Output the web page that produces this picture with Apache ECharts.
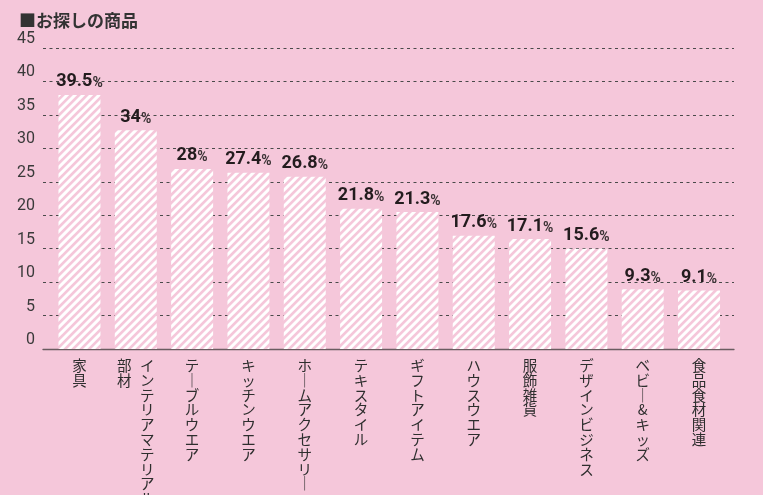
<!DOCTYPE html>
<html>
<head>
<meta charset="utf-8">
<script src="https://cdn.jsdelivr.net/npm/echarts@6/dist/echarts.min.js"></script>
<style>
html,body{margin:0;padding:0;background:#f5c7da;}
#c{width:763px;height:495px;}
</style>
</head>
<body>
<div id="c"></div>
<script>
// ---- data ----
const title = '■お探しの商品';
// '\n' marks a column break (columns read right-to-left in vertical writing)
const categories = ['家具','インテリアマテリアル\n部材','テーブルウエア','キッチンウエア','ホームアクセサリー','テキスタイル','ギフトアイテム','ハウスウエア','服飾雑貨','デザインビジネス','ベビー&キッズ','食品食材関連'];
const values = [39.5, 34, 28, 27.4, 26.8, 21.8, 21.3, 17.6, 17.1, 15.6, 9.3, 9.1];
const yTicks = [0, 5, 10, 15, 20, 25, 30, 35, 40, 45];

// ---- stripe pattern ----
const BG = '#f5c7da';
function makePattern() {
  const s = 16, p = 8, w = 4.2;
  const cv = document.createElement('canvas');
  cv.width = s; cv.height = s;
  const ctx = cv.getContext('2d');
  ctx.fillStyle = BG; ctx.fillRect(0, 0, s, s);
  ctx.fillStyle = '#ffffff';
  for (let c = -s; c <= 2 * s; c += p) {
    ctx.beginPath();
    ctx.moveTo(c, 0); ctx.lineTo(c + w, 0);
    ctx.lineTo(c + w - s, s); ctx.lineTo(c - s, s);
    ctx.closePath(); ctx.fill();
  }
  return cv;
}

function vertLabel(name) {
  const cols = name.split('\n').map(c => Array.from(c.replace(/ー/g, '｜')));
  cols.reverse(); // first column on the right
  const rows = Math.max(...cols.map(c => c.length));
  const lines = [];
  for (let r = 0; r < rows; r++) {
    lines.push(cols.map(c => '{c|' + (c[r] || ' ') + '}').join(''));
  }
  return lines.join('\n');
}

const chart = echarts.init(document.getElementById('c'));
const T = 48, B = 146;
chart.setOption({
  backgroundColor: BG,
  animation: false,
  title: {
    text: title, left: 14, top: 7,
    textStyle: {fontSize: 17, fontWeight: 'bold', color: '#333', fontFamily: 'Noto Sans CJK JP'}
  },
  grid: [
    {left: 43, right: 29, top: T, bottom: B, containLabel: false, outerBoundsMode: 'none'},
    {left: 51.3, right: 35.8, top: T, bottom: B, containLabel: false, outerBoundsMode: 'none'}
  ],
  xAxis: [
    {gridIndex: 0, type: 'value', min: 0, max: 1, axisLabel: {show: false}, splitLine: {show: false}, axisTick: {show: false},
     axisLine: {show: true, lineStyle: {color: '#6a5c60', width: 1.3}}},
    {gridIndex: 1, type: 'category', data: categories, axisLine: {show: false}, axisTick: {show: false},
     axisLabel: {interval: 0, margin: 9, verticalAlign: 'top', formatter: vertLabel, color: '#333', hideOverlap: false,
       rich: {c: {width: 23, align: 'center', fontSize: 14.5, lineHeight: 14.8, color: '#2e2e2e', fontFamily: 'Noto Sans CJK JP'}}}}
  ],
  yAxis: [
    {gridIndex: 0, type: 'value', min: 0, max: 45, interval: 5,
     axisLine: {show: false}, axisTick: {show: false},
     axisLabel: {fontSize: 16, color: '#3a3a3a', fontFamily: 'Roboto', margin: 8, verticalAlign: 'bottom', padding: [0, 0, 1, 0],
       formatter: v => yTicks.includes(v) ? String(v) : ''},
     splitLine: {show: true, lineStyle: {color: '#4a4a4a', type: [3, 3.5], width: 1}}},
    {gridIndex: 1, type: 'value', min: 0, max: 46.8, show: false}
  ],
  series: [{
    type: 'bar', xAxisIndex: 1, yAxisIndex: 1, data: values, barWidth: 42,
    itemStyle: {color: {image: makePattern(), repeat: 'repeat'}},
    label: {
      show: true, position: 'top', distance: 4,
      formatter: p => '{v|' + p.value + '}{p|%}',
      rich: {
        v: {fontSize: 18, fontWeight: 'bold', color: '#231c1e', fontFamily: 'Roboto', verticalAlign: 'bottom', lineHeight: 20},
        p: {fontSize: 14, fontWeight: 'bold', color: '#3a3234', fontFamily: 'Roboto', verticalAlign: 'bottom', lineHeight: 19}
      }
    }
  }]
});
</script>
</body>
</html>
